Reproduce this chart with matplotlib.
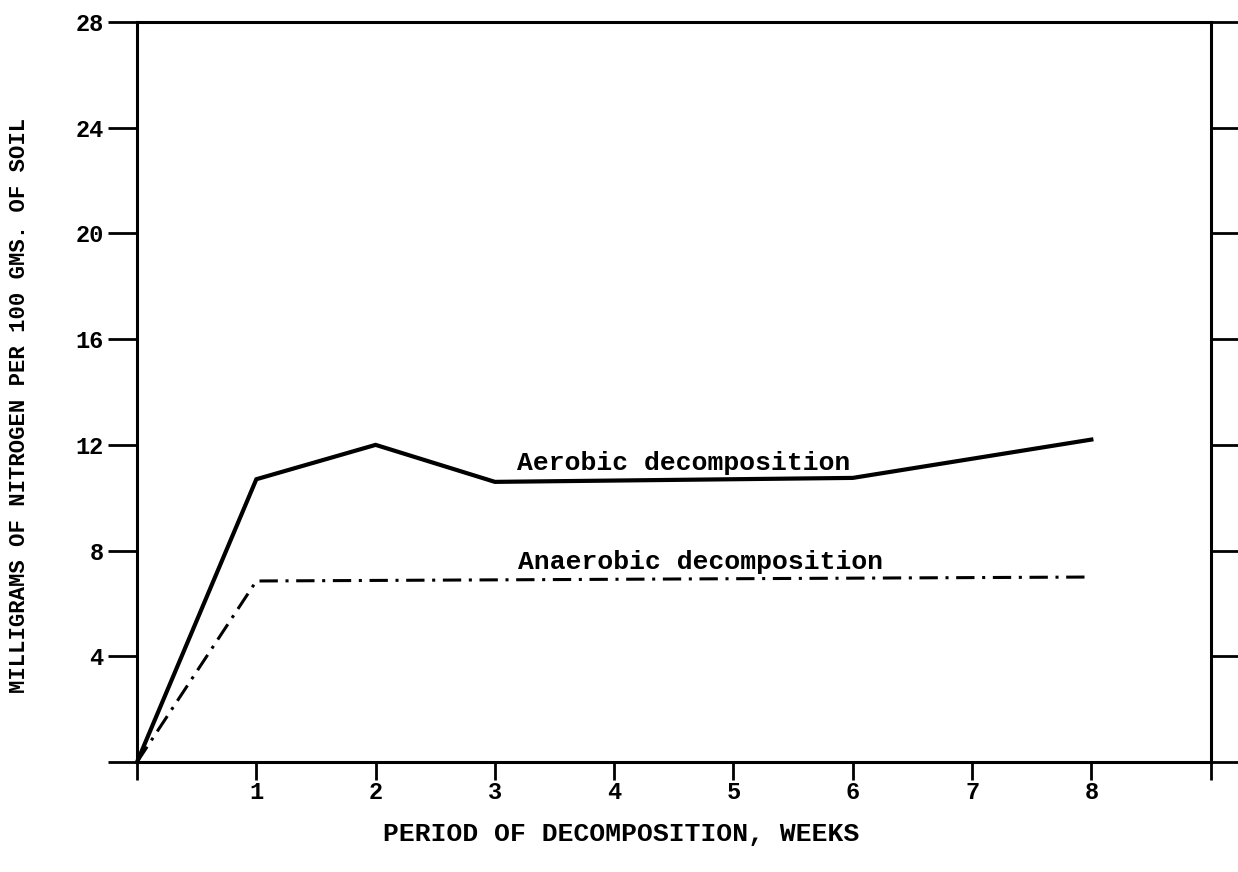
import matplotlib
matplotlib.use('Agg')
import matplotlib.pyplot as plt

# weeks and mg nitrogen per 100 g of soil
aerobic_weeks = [0, 1, 2, 3, 6, 8]
aerobic_n = [0, 10.7, 12.0, 10.6, 10.75, 12.2]

anaerobic_weeks = [0, 1, 8]
anaerobic_n = [0, 6.85, 7.0]

xticks = [0, 1, 2, 3, 4, 5, 6, 7, 8, 9]
xtick_labels = ['', '1', '2', '3', '4', '5', '6', '7', '8', '']
yticks = [0, 4, 8, 12, 16, 20, 24, 28]
ytick_labels = ['', '4', '8', '12', '16', '20', '24', '28']

FONT = ['Liberation Mono', 'DejaVu Sans Mono']

fig = plt.figure(figsize=(12.38, 8.72), dpi=100)
ax = fig.add_axes([0.1107, 0.1261, 0.8672, 0.8487])

ax.plot(aerobic_weeks, aerobic_n, color='black', lw=3.0,
        solid_joinstyle='miter', clip_on=False)
ax.plot(anaerobic_weeks, anaerobic_n, color='black', lw=2.2,
        linestyle=(0, (6, 2.5, 1, 2.5)), clip_on=False)

ax.text(4.58, 11.3, 'Aerobic decomposition', family=FONT, weight='bold',
        fontsize=19, ha='center', va='center')
ax.text(4.72, 7.55, 'Anaerobic decomposition', family=FONT, weight='bold',
        fontsize=19, ha='center', va='center')

ax.set_xlim(0, 9)
ax.set_ylim(0, 28)
ax.set_xticks(xticks)
ax.set_xticklabels(xtick_labels, family=FONT, weight='bold', fontsize=17)
ax.set_yticks(yticks)
ax.set_yticklabels(ytick_labels, family=FONT, weight='bold', fontsize=17)

ax.tick_params(axis='x', direction='out', length=13, width=2, pad=1)
ax.tick_params(axis='y', direction='out', length=21, width=2, pad=3,
               right=True)

for side in ['left', 'right', 'top', 'bottom']:
    ax.spines[side].set_linewidth(2.2)

ax.set_xlabel('PERIOD OF DECOMPOSITION, WEEKS', family=FONT, weight='bold',
              fontsize=19)
ax.xaxis.set_label_coords(0.451, -0.081)
ax.set_ylabel('MILLIGRAMS OF NITROGEN PER 100 GMS. OF SOIL', family=FONT,
              weight='bold', fontsize=16)
ax.yaxis.set_label_coords(-0.100, 0.482)

fig.savefig('out.png', dpi=100)
